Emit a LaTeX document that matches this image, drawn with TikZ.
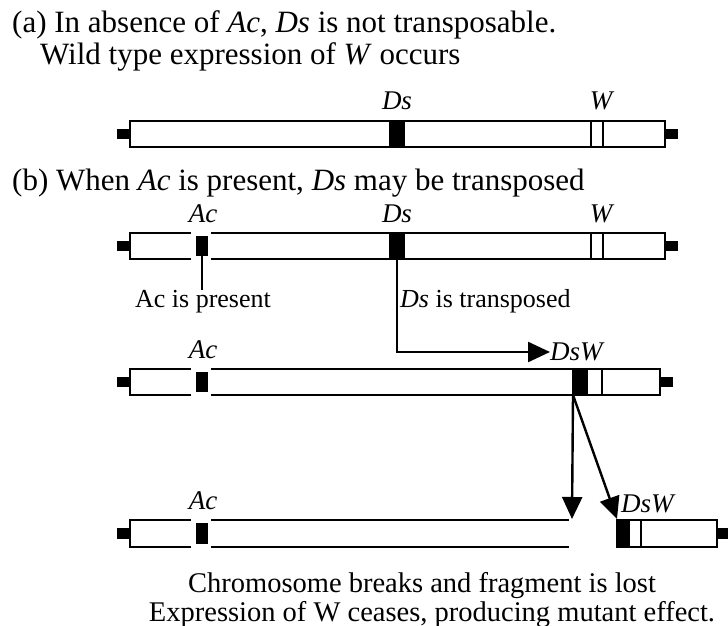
\documentclass[tikz,border=0pt]{standalone}
\usepackage{fontspec}
\setmainfont{Liberation Serif}
\usetikzlibrary{arrows.meta}
\tikzset{
  outline/.style={line width=2.7pt, line cap=rect},
  divider/.style={line width=2pt},
  solid block/.style={fill=black},
  pointer/.style={line width=2.4pt},
  bigarrow/.style={line width=2.4pt, -{Triangle[length=22pt,width=20pt]}},
  headline/.style={font=\fontsize{31}{31}\selectfont, inner sep=0pt},
  note/.style={font=\fontsize{26}{26}\selectfont, inner sep=0pt},
  footer/.style={font=\fontsize{28.5}{28.5}\selectfont, inner sep=0pt},
  locus/.style={font=\fontsize{27}{27}\selectfont\itshape, inner sep=0pt},
}
\begin{document}
\begin{tikzpicture}[x=1pt,y=-1pt]
\useasboundingbox (0,0) rectangle (728,626);
\clip (0,0) rectangle (728,626);

% ---------- headings ----------
\node[headline, anchor=base west] (ha1) at (12,33) {(a) In absence of \textit{Ac}, \textit{Ds} is not transposable.};
\node[headline, anchor=base west] (ha2) at (40,64) {Wild type expression of \textit{W} occurs};
\node[headline, anchor=base west] (hb) at (12,190) {(b) When \textit{Ac} is present, \textit{Ds} may be transposed};

% ---------- chromosome 1: Ds and W only ----------
\draw[outline] (130,121) rectangle (665,147);
\fill (117,129) rectangle (130,139);
\fill (665,129) rectangle (678,139);
\fill[solid block] (389,121) rectangle (405,147);
\draw[divider] (591,121) -- (591,147);
\draw[divider] (603,121) -- (603,147);
\node[locus, anchor=base] (ds1) at (397,110) {Ds};
\node[locus, anchor=base] (w1) at (601,110) {W};

% ---------- chromosome 2: Ac, Ds and W ----------
\draw[outline] (190,233) -- (130,233) -- (130,259) -- (190,259);
\draw[outline] (212,233) -- (665,233) -- (665,259) -- (212,259);
\fill (117,241) rectangle (130,251);
\fill (665,241) rectangle (678,251);
\fill[solid block] (196,236) rectangle (208,256);
\fill[solid block] (389,233) rectangle (405,259);
\draw[divider] (591,233) -- (591,259);
\draw[divider] (603,233) -- (603,259);
\node[locus, anchor=base] (ac2) at (203,222) {Ac};
\node[locus, anchor=base] (ds2) at (397,222) {Ds};
\node[locus, anchor=base] (w2) at (601,222) {W};
\coordinate (acfoot2) at (202,256);
\coordinate (dsfoot2) at (397,259);
\coordinate (bend) at (397,352);

\node[note, anchor=base] (acp) at (203,307) {Ac is present};
\node[note, anchor=base west] (dst) at (400,307) {\textit{Ds} is transposed};
\draw[pointer] (acfoot2) -- (acp.north -| acfoot2);

% ---------- chromosome 3: Ds inserted next to W ----------
\node[locus, anchor=west] (dsw3) at (550,352) {DsW};
\draw[bigarrow] (dsfoot2) -- (bend) -- (dsw3.west);

\draw[outline] (190,369) -- (130,369) -- (130,395) -- (190,395);
\draw[outline] (212,369) -- (660,369) -- (660,395) -- (212,395);
\fill (117,377) rectangle (130,387);
\fill (660,377) rectangle (673,387);
\fill[solid block] (196,372) rectangle (208,392);
\fill[solid block] (572,369) rectangle (588,395);
\draw[divider] (602,369) -- (602,395);
\node[locus, anchor=base] (ac3) at (203,358) {Ac};
\coordinate (dsfoot3) at (573,395);

% ---------- chromosome 4: broken ----------
\draw[outline] (190,520) -- (130,520) -- (130,547) -- (190,547);
\draw[outline] (212,520) -- (568,520);
\draw[outline] (212,547) -- (568,547);
\fill (117,528) rectangle (130,539);
\fill[solid block] (196,523) rectangle (208,544);
\node[locus, anchor=base] (ac4) at (203,509) {Ac};
\coordinate (breakpt) at (572,519);

\draw[outline] (617,520) rectangle (717,547);
\fill[solid block] (617,520) rectangle (630,547);
\draw[divider] (641,520) -- (641,547);
\fill (717,528) rectangle (731,539);
\node[locus, anchor=base west] (dsw4) at (621,512) {DsW};
\coordinate (fragtip) at (617,519);

\draw[bigarrow] (dsfoot3) -- (breakpt);
\draw[bigarrow] (dsfoot3) -- (fragtip);

% ---------- caption ----------
\node[footer, anchor=base] (f1) at (422,592) {Chromosome breaks and fragment is lost};
\node[footer, anchor=base] (f2) at (432,621) {Expression of W ceases, producing mutant effect.};
\end{tikzpicture}
\end{document}
